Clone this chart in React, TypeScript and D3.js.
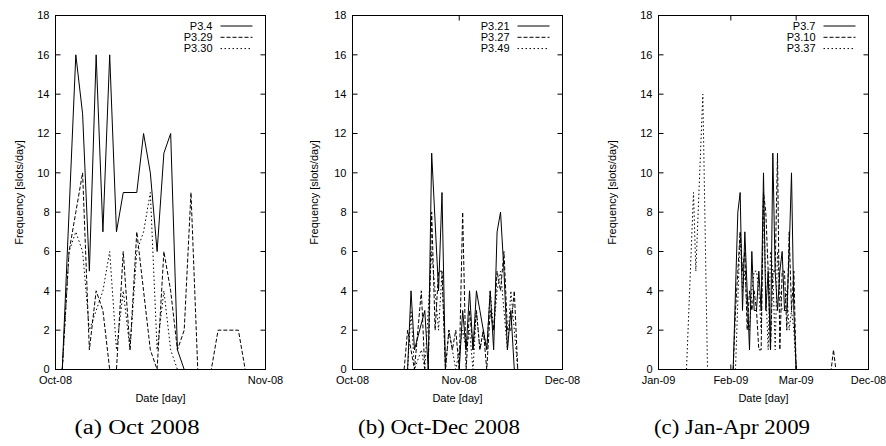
import * as d3 from 'd3'

// series values: [day offset from panel start, slots/day]
const octP34: [number, number][] = [[1,0],[2,8],[3,16],[4,13],[5,5],[6,16],[7,7],[8,16],[9,7],[10,9],[11,9],[12,9],[13,12],[14,10],[15,6],[16,11],[17,12],[18,1],[19,0]]
const octP329: [number, number][] = [[1,0],[2,6],[3,8],[4,10],[5,1],[6,4],[7,3],[8,0],[9,0],[10,6],[11,1],[12,7],[13,4],[14,1],[15,0],[16,6],[17,4],[18,1],[19,2],[20,9],[21,0],[23,0],[24,2],[27,2],[28,0]]
const octP330: [number, number][] = [[1,0],[2,6],[3,7],[4,6],[5,2],[6,3],[7,4],[8,6],[9,1],[10,4],[11,1],[12,6],[13,7],[14,9],[15,1],[16,4],[17,1],[18,0]]

const decP321: [number, number][] = [[16,0],[17,4],[18,1],[21,3],[22,0],[23,11],[25,4],[26,9],[27,0],[31,0],[32,3],[33,1],[34,4],[35,1],[36,4],[37,3],[38,2],[39,1],[40,4],[41,1],[42,7],[43,8],[44,5],[45,1],[46,3],[47,0]]
const decP327: [number, number][] = [[15,0],[16,2],[17,1],[18,0],[19,2],[20,4],[21,0],[22,0],[23,8],[24,2],[25,5],[26,5],[27,0],[28,2],[29,1],[30,2],[31,0],[32,8],[33,0],[34,3],[35,1],[36,3],[37,1],[38,2],[39,0],[40,3],[41,2],[42,5],[43,4],[44,6],[45,2],[46,2],[47,4],[48,0]]
const decP349: [number, number][] = [[16,0],[17,3],[18,0],[20,1],[21,0],[22,3],[23,6],[24,4],[25,2],[26,5],[27,0],[28,2],[29,1],[30,0],[31,1],[32,2],[33,1],[34,2],[35,0],[36,3],[37,1],[38,2],[39,1],[40,4],[41,2],[42,4],[43,5],[44,3],[45,1],[46,4],[47,2],[48,0]]

const janP37: [number, number][] = [[32,0],[34,8],[35,9],[36,3],[37,7],[39,1],[40,6],[41,3],[42,3],[43,5],[44,3],[45,10],[46,3],[47,5],[48,1],[49,11],[50,5],[51,3],[52,5],[53,6],[54,3],[55,3],[56,6],[57,10],[58,3],[59,0]]
const janP310: [number, number][] = [[32,0],[33,3],[35,7],[36,5],[37,6],[38,2],[39,4],[40,3],[41,4],[42,3],[43,1],[44,1],[45,9],[46,8],[47,5],[48,1],[49,5],[50,5],[51,11],[52,1],[53,5],[54,5],[55,2],[56,7],[57,3],[58,5],[59,0],[74,0],[75,1],[76,0]]
const janP337: [number, number][] = [[12,0],[15,9],[16,5],[19,14],[21,0],[33,0],[35,7],[36,4],[37,5],[38,3],[39,2],[40,4],[41,5],[42,5],[43,4],[44,2],[45,9],[46,4],[47,1],[48,6],[49,5],[50,1],[51,6],[52,4],[53,3],[54,3],[55,4],[56,2],[57,3],[58,2],[59,0]]

const legendA = ['P3.4', 'P3.29', 'P3.30']
const legendB = ['P3.21', 'P3.27', 'P3.49']
const legendC = ['P3.7', 'P3.10', 'P3.37']

const ticksA = ['Oct-08', 'Nov-08']
const ticksB = ['Oct-08', 'Nov-08', 'Dec-08']
const ticksC = ['Jan-09', 'Feb-09', 'Mar-09', 'Dec-08']

const yTicks = [0, 2, 4, 6, 8, 10, 12, 14, 16, 18]
const captions = ['(a) Oct 2008', '(b) Oct-Dec 2008', '(c) Jan-Apr 2009']

const dashes = ['none', '4,2', '1.5,2.5']
const sans = '"Liberation Sans", Arial, sans-serif'

type PanelProps = {
  left: number
  start: Date
  end: Date
  tickDates: Date[]
  tickLabels: string[]
  series: [number, number][][]
  names: string[]
  caption: string
  captionX: number
  captionW: number
  titleGap: number
}

const top = 15.5
const bottom = 369.5
const pw = 210

const Panel = ({ left, start, end, tickDates, tickLabels, series, names, caption, captionX, captionW, titleGap }: PanelProps) => {
  const right = left + pw
  const x = d3.scaleUtc().domain([start, end]).range([left, right])
  const y = d3.scaleLinear().domain([0, 18]).range([bottom, top])
  const line = d3.line<[number, number]>()
    .x(d => x(d3.utcDay.offset(start, d[0])))
    .y(d => y(d[1]))

  return (
    <g fontFamily={sans} fontSize={11}>
      {series.map((s, i) => (
        <path key={i} d={line(s) || ''} fill="none" stroke="#000" strokeWidth={1}
          strokeDasharray={dashes[i]} />
      ))}
      <rect x={left} y={top} width={pw} height={bottom - top} fill="none" stroke="#000" />
      {yTicks.map(t => (
        <g key={t}>
          <line x1={left} x2={left + 5} y1={y(t)} y2={y(t)} stroke="#000" />
          <line x1={right - 5} x2={right} y1={y(t)} y2={y(t)} stroke="#000" />
          <text x={left - 6} y={y(t)} dy="0.35em" textAnchor="end">{t}</text>
        </g>
      ))}
      {tickDates.map((t, i) => (
        <g key={i}>
          <line x1={x(t)} x2={x(t)} y1={bottom} y2={bottom - 5} stroke="#000" />
          <line x1={x(t)} x2={x(t)} y1={top} y2={top + 5} stroke="#000" />
          <text x={x(t)} y={380} dy="0.35em" textAnchor="middle">{tickLabels[i]}</text>
        </g>
      ))}
      <text x={(left + right) / 2} y={398} dy="0.35em" textAnchor="middle">Date [day]</text>
      <text transform={`translate(${left - titleGap},${(top + bottom) / 2}) rotate(-90)`} dy="0.35em"
        textAnchor="middle">Frequency [slots/day]</text>
      {names.map((n, i) => (
        <g key={n}>
          <text x={right - 53} y={26 + i * 11.3} dy="0.35em" textAnchor="end">{n}</text>
          <line x1={right - 45} x2={right - 13} y1={26 + i * 11.3} y2={26 + i * 11.3}
            stroke="#000" strokeDasharray={dashes[i]} />
        </g>
      ))}
      <text x={captionX - captionW / 2} y={427} dy="0.35em" textLength={captionW}
        lengthAdjust="spacingAndGlyphs"
        fontFamily='"Liberation Serif", "Times New Roman", serif' fontSize={20}>{caption}</text>
    </g>
  )
}

const utc = (y: number, m: number, d: number) => new Date(Date.UTC(y, m, d))

export default function App() {
  return (
    <svg width={886} height={446} style={{ position: 'absolute', left: 0, top: 0, background: '#fff' }}>
      <Panel left={55.5} start={utc(2008, 9, 1)} end={utc(2008, 10, 1)}
        tickDates={[utc(2008, 9, 1), utc(2008, 10, 1)]} tickLabels={ticksA}
        series={[octP34, octP329, octP330]} names={legendA} caption={captions[0]}
        captionX={137} captionW={125} titleGap={36} />
      <Panel left={352.5} start={utc(2008, 9, 1)} end={utc(2008, 11, 1)}
        tickDates={[utc(2008, 9, 1), utc(2008, 10, 1), utc(2008, 11, 1)]} tickLabels={ticksB}
        series={[decP321, decP327, decP349]} names={legendB} caption={captions[1]}
        captionX={439} captionW={162} titleGap={38} />
      <Panel left={658.5} start={utc(2009, 0, 1)} end={utc(2009, 3, 1)}
        tickDates={[utc(2009, 0, 1), utc(2009, 1, 1), utc(2009, 2, 1), utc(2009, 3, 1)]} tickLabels={ticksC}
        series={[janP37, janP310, janP337]} names={legendC} caption={captions[2]}
        captionX={732} captionW={156} titleGap={46} />
    </svg>
  )
}
